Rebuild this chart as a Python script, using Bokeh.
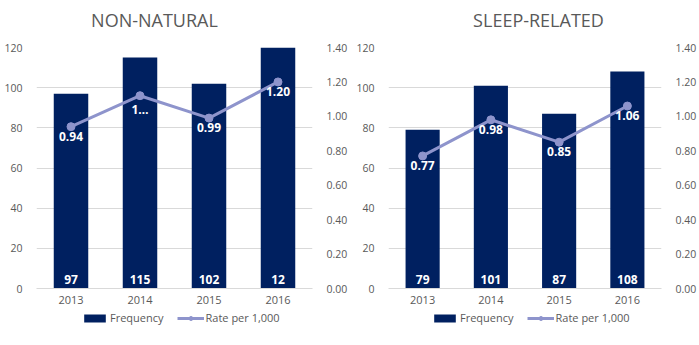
from bokeh.plotting import figure
from bokeh.layouts import row, column
from bokeh.models import (ColumnDataSource, Range1d, LinearAxis, FixedTicker,
                          NumeralTickFormatter, Legend, LegendItem)
from bokeh.core.properties import value
from bokeh.embed import file_html
from bokeh.resources import INLINE

years = ["2013", "2014", "2015", "2016"]

nn_title = "NON-NATURAL"
nn_freq = [97, 115, 102, 120]
nn_freq_labels = ["97", "115", "102", "12"]
nn_rate = [0.94, 1.12, 0.99, 1.20]
nn_rate_labels = ["0.94", "1\u2026", "0.99", "1.20"]

sr_title = "SLEEP-RELATED"
sr_freq = [79, 101, 87, 108]
sr_freq_labels = ["79", "101", "87", "108"]
sr_rate = [0.77, 0.98, 0.85, 1.06]
sr_rate_labels = ["0.77", "0.98", "0.85", "1.06"]

left_ticks = [0, 20, 40, 60, 80, 100, 120]
right_ticks = [0, 0.2, 0.4, 0.6, 0.8, 1.0, 1.2, 1.4]
legend_labels = ["Frequency", "Rate per 1,000"]

BAR = "#002060"
LINE = "#8e94cc"
TXT = "#595959"
GRID = "#d9d9d9"
FONT = "Open Sans"
TICK_SIZE = "10.5px"


def bare(width, height):
    f = figure(width=width, height=height, x_range=Range1d(0, width),
               y_range=Range1d(0, height), output_backend="svg",
               toolbar_location=None, min_border=0)
    f.outline_line_color = None
    f.axis.visible = False
    f.grid.visible = False
    return f


def make_title(text, width, cx):
    t = bare(width, 40)
    t.text(x=[cx], y=[21], text=[text], text_align="center",
           text_baseline="middle", text_color=TXT, text_font=value(FONT),
           text_font_size="18px")
    return t


def make(freq, freq_labels, rate, rate_labels, width, bl, br):
    src = ColumnDataSource(dict(year=years, freq=freq, fl=freq_labels,
                                rate=rate, rl=rate_labels,
                                zero=[0] * len(years)))
    p = figure(x_range=years, y_range=Range1d(0, 120), width=width, height=270,
               output_backend="svg", toolbar_location=None,
               min_border_left=bl, min_border_right=br,
               min_border_top=7, min_border_bottom=22)
    p.outline_line_color = None
    p.x_range.range_padding = 0
    p.extra_y_ranges = {"rate": Range1d(0, 1.4)}

    p.vbar(x="year", top="freq", width=0.5, source=src,
           fill_color=BAR, line_color=None)
    p.line(x="year", y="rate", source=src, y_range_name="rate",
           line_color=LINE, line_width=3)
    p.scatter(x="year", y="rate", source=src, y_range_name="rate",
              size=8, fill_color=LINE, line_color=LINE)

    p.text(x="year", y="zero", text="fl", source=src, text_align="center",
           text_baseline="bottom", y_offset=-5, text_color="white",
           text_font=value(FONT), text_font_size="12px",
           text_font_style="bold")
    p.text(x="year", y="rate", text="rl", source=src, y_range_name="rate",
           text_align="center", text_baseline="top", y_offset=5,
           text_color="white", text_font=value(FONT), text_font_size="12px",
           text_font_style="bold")

    ya = p.yaxis[0]
    ya.ticker = FixedTicker(ticks=left_ticks)
    ya.axis_line_color = None
    ya.major_tick_line_color = None
    ya.minor_tick_line_color = None
    ya.major_label_standoff = 8
    ya.major_label_text_font = FONT
    ya.major_label_text_font_size = TICK_SIZE
    ya.major_label_text_color = TXT

    ra = LinearAxis(y_range_name="rate", ticker=FixedTicker(ticks=right_ticks),
                    formatter=NumeralTickFormatter(format="0.00"))
    ra.axis_line_color = None
    ra.major_tick_line_color = None
    ra.minor_tick_line_color = None
    ra.major_label_standoff = 8
    ra.major_label_text_font = FONT
    ra.major_label_text_font_size = TICK_SIZE
    ra.major_label_text_color = TXT
    p.add_layout(ra, "right")

    xa = p.xaxis[0]
    xa.axis_line_color = GRID
    xa.major_tick_line_color = None
    xa.minor_tick_line_color = None
    xa.major_label_standoff = 1
    xa.major_label_text_font = FONT
    xa.major_label_text_font_size = "11px"
    xa.major_label_text_color = TXT

    p.xgrid.grid_line_color = None
    p.ygrid.grid_line_color = GRID
    p.ygrid.ticker = FixedTicker(ticks=left_ticks)
    return p


def make_legend(width, leg_x):
    lp = bare(width, 35)
    # swatch renderers kept outside the visible range; only their legend icons show
    bars = lp.vbar(x=[-50], top=[-50], width=1, fill_color=BAR,
                   line_color=None)
    ln = lp.line(x=[-60, -50], y=[-50, -50], line_color=LINE, line_width=3)
    pt = lp.scatter(x=[-50], y=[-50], size=8, fill_color=LINE,
                    line_color=LINE)
    leg = Legend(items=[LegendItem(label=legend_labels[0], renderers=[bars]),
                        LegendItem(label=legend_labels[1], renderers=[ln, pt])],
                 orientation="horizontal", location=(leg_x, 20),
                 glyph_width=27, glyph_height=10, label_standoff=2,
                 label_height=14, spacing=13, padding=0, margin=0,
                 border_line_color=None, background_fill_alpha=0,
                 label_text_font=FONT, label_text_font_size="11px",
                 label_text_color=TXT)
    lp.add_layout(leg)
    return lp


t1 = make_title(nn_title, 350, 154)
t2 = make_title(sr_title, 349, 188)
p1 = make(nn_freq, nn_freq_labels, nn_rate, nn_rate_labels, 350, 36, 34)
p2 = make(sr_freq, sr_freq_labels, sr_rate, sr_rate_labels, 349, 38, 36)
l1 = make_legend(350, 81)
l2 = make_legend(349, 81)
layout = column(row(t1, t2), row(p1, p2), row(l1, l2))
open("out.html", "w").write(file_html(layout, INLINE))
